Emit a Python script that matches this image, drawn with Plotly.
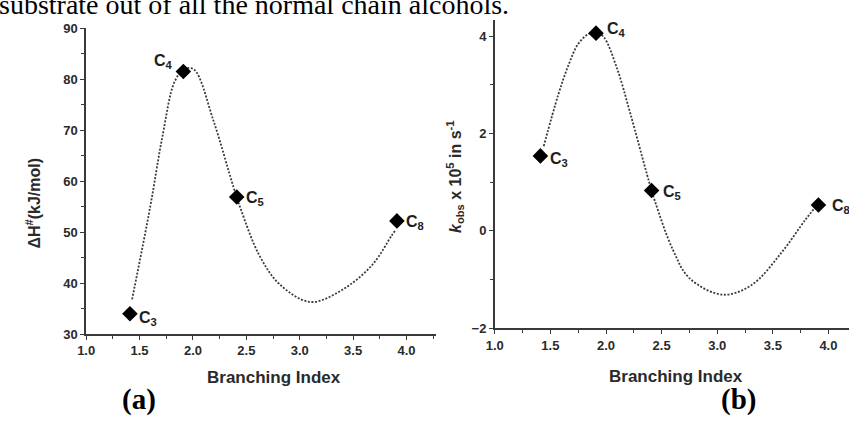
import plotly.graph_objects as go

W, H = 849, 426

# ---- data ----
labels = ["C<sub>3</sub>", "C<sub>4</sub>", "C<sub>5</sub>", "C<sub>8</sub>"]
branching_index = [1.41, 1.91, 2.41, 3.91]
dH_values = [34.0, 81.5, 56.9, 52.2]
kobs_values = [1.54, 4.06, 0.83, 0.53]

# dotted fit curves
curve_a_x = [1.43, 1.60, 1.71, 1.83, 1.92, 2.01, 2.19, 2.38, 2.45, 2.62, 2.81, 3.10, 3.40, 3.68, 3.86, 3.90]
curve_a_y = [36.8, 55.0, 68.3, 79.6, 82.0, 81.9, 72.0, 58.8, 54.4, 45.5, 39.8, 36.3, 38.7, 43.6, 49.3, 50.5]
curve_b_x = [1.44, 1.57, 1.66, 1.75, 1.84, 1.91, 1.98, 2.10, 2.22, 2.37, 2.44, 2.60, 2.75, 3.05, 3.31, 3.58, 3.79, 3.88]
curve_b_y = [1.74, 2.79, 3.39, 3.84, 4.04, 4.08, 3.98, 3.33, 2.40, 1.15, 0.61, -0.38, -0.97, -1.31, -1.11, -0.44, 0.22, 0.48]

x_ticks = [1.0, 1.5, 2.0, 2.5, 3.0, 3.5, 4.0]
ya_ticks = [30, 40, 50, 60, 70, 80, 90]
yb_ticks = [-2, 0, 2, 4]

# label offsets (pixels) per point: (xshift, yshift, xanchor)
lab_a = [(7, -5, "left"), (-8, 10, "right"), (7, -2, "left"), (7, -2, "left")]
lab_b = [(8, -4, "left"), (9, 4, "left"), (9, -2, "left"), (12, -1, "left")]

AX = "#3a3a3a"
TXT = "#2a2a2a"
sans = "Liberation Sans"
DOT = "2px,1.6px"

fig = go.Figure()

# panel a
fig.add_trace(go.Scatter(x=curve_a_x, y=curve_a_y, mode="lines",
                         line=dict(color="#3c3c3c", width=1.8, dash=DOT, shape="spline", smoothing=1.0),
                         xaxis="x", yaxis="y", hoverinfo="skip"))
fig.add_trace(go.Scatter(x=branching_index, y=dH_values, mode="markers",
                         marker=dict(symbol="diamond", size=12, color="black"), xaxis="x", yaxis="y"))
# panel b
fig.add_trace(go.Scatter(x=curve_b_x, y=curve_b_y, mode="lines",
                         line=dict(color="#3c3c3c", width=1.8, dash=DOT, shape="spline", smoothing=1.0),
                         xaxis="x2", yaxis="y2", hoverinfo="skip"))
fig.add_trace(go.Scatter(x=branching_index, y=kobs_values, mode="markers",
                         marker=dict(symbol="diamond", size=12, color="black"), xaxis="x2", yaxis="y2"))


def px_x(p):
    return p / W


def px_y(p):
    return (H - p) / H


common_axis = dict(showline=True, linecolor=AX, linewidth=1.5, showgrid=False, zeroline=False,
                   ticks="outside", ticklen=4, tickwidth=1.2, tickcolor=AX,
                   tickfont=dict(family=sans, size=13, color=TXT, weight="bold"))

fig.update_layout(
    width=W, height=H, margin=dict(l=0, r=0, t=0, b=0),
    paper_bgcolor="white", plot_bgcolor="white", showlegend=False,
    xaxis=dict(domain=[px_x(78), px_x(432)], range=[1.0, 4.28], tickvals=x_ticks,
               ticktext=[f"{v:.1f}" for v in x_ticks], anchor="y",
               minor=dict(dtick=0.25, ticks="outside", ticklen=3, tickcolor=AX), **common_axis),
    yaxis=dict(domain=[px_y(339), px_y(22)], range=[30, 90], tickvals=ya_ticks, anchor="x",
               minor=dict(dtick=5, ticks="outside", ticklen=3, tickcolor=AX), **common_axis),
    xaxis2=dict(domain=[px_x(491), 1.0], range=[1.0, 1.0 + (849 - 491) / 112.4], tickvals=x_ticks,
                ticktext=[f"{v:.1f}" for v in x_ticks], anchor="y2",
                minor=dict(dtick=0.25, ticks="outside", ticklen=3, tickcolor=AX), **common_axis),
    yaxis2=dict(domain=[px_y(333), px_y(13)], range=[-2, 4.34], tickvals=yb_ticks, anchor="x2",
                minor=dict(dtick=1, ticks="outside", ticklen=3, tickcolor=AX), **common_axis),
)

ann = []
lab_font = dict(family=sans, size=16, color="#1e1e1e", weight="bold")
for i, t in enumerate(labels):
    xs, ys, xa = lab_a[i]
    ann.append(dict(x=branching_index[i], y=dH_values[i], xref="x", yref="y", text=t, showarrow=False,
                    xanchor=xa, yanchor="middle", xshift=xs, yshift=ys, font=lab_font))
    xs, ys, xa = lab_b[i]
    ann.append(dict(x=branching_index[i], y=kobs_values[i], xref="x2", yref="y2", text=t, showarrow=False,
                    xanchor=xa, yanchor="middle", xshift=xs, yshift=ys, font=lab_font))

title_font = dict(family=sans, size=17, color=TXT, weight="bold")
ann.append(dict(x=px_x(268), y=px_y(384), xref="paper", yref="paper", text="Branching Index", showarrow=False,
                xanchor="center", yanchor="middle", font=title_font))
ann.append(dict(x=px_x(674), y=px_y(383), xref="paper", yref="paper", text="Branching Index", showarrow=False,
                xanchor="center", yanchor="middle", font=title_font))
ann.append(dict(x=px_x(24), y=px_y(203), xref="paper", yref="paper", text="ΔH<sup>#</sup>(kJ/mol)", showarrow=False,
                textangle=-90, xanchor="center", yanchor="middle",
                font=dict(family=sans, size=16, color=TXT, weight="bold")))
ann.append(dict(x=px_x(451), y=px_y(176), xref="paper", yref="paper",
                text="<i>k</i><sub>obs</sub> x 10<sup>5</sup> in s<sup>-1</sup>", showarrow=False,
                textangle=-90, xanchor="center", yanchor="middle",
                font=dict(family=sans, size=16, color=TXT, weight="bold")))

# surrounding page text
ann.append(dict(x=px_x(-12), y=px_y(16), xref="paper", yref="paper",
                text="substrate out of all the normal chain alcohols.",
                showarrow=False, xanchor="left", yanchor="bottom",
                font=dict(family="Liberation Serif", size=28, color="black")))
ann.append(dict(x=px_x(131), y=px_y(407), xref="paper", yref="paper", text="<b>(a)</b>", showarrow=False,
                xanchor="center", yanchor="middle", font=dict(family="Liberation Serif", size=29, color="black")))
ann.append(dict(x=px_x(737), y=px_y(407), xref="paper", yref="paper", text="<b>(b)</b>", showarrow=False,
                xanchor="center", yanchor="middle", font=dict(family="Liberation Serif", size=29, color="black")))

fig.update_layout(annotations=ann)
fig.write_html("out.html", config={"displayModeBar": False},
               post_script="document.body.style.margin='0';document.body.style.overflow='hidden';")
